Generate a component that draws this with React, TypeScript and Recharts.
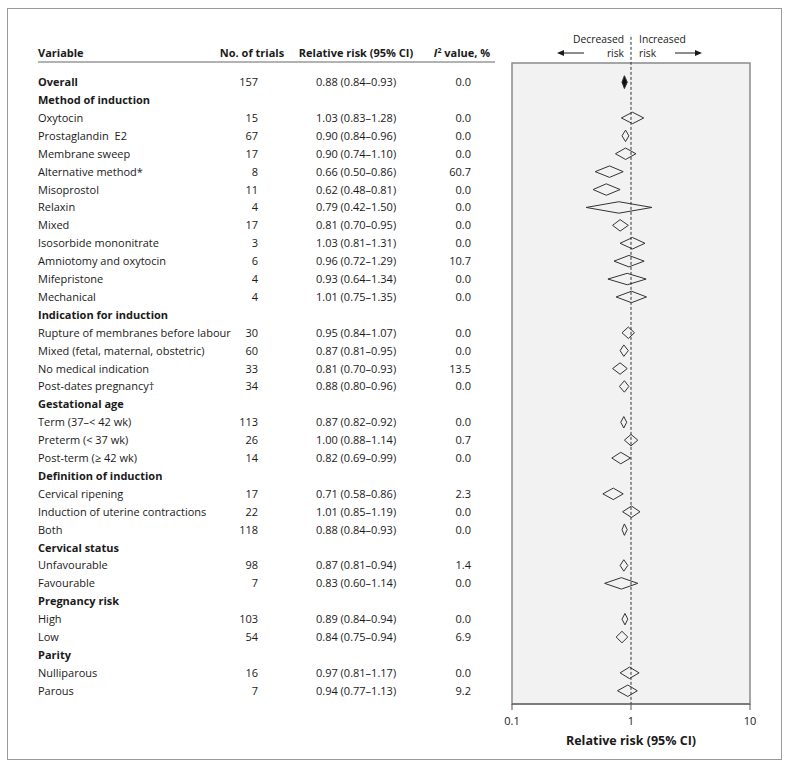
import React from "react";
import {
  ComposedChart,
  Area,
  XAxis,
  YAxis,
  CartesianGrid,
  ReferenceArea,
  ReferenceLine,
} from "recharts";

// Forest plot: relative risk of the outcome by subgroup, log scale 0.1–10.
// Rows top to bottom. Headings carry no numbers (null).

const LABELS = [
  "Overall",
  "Method of induction",
  "Oxytocin",
  "Prostaglandin\u00a0 E2",
  "Membrane sweep",
  "Alternative method*",
  "Misoprostol",
  "Relaxin",
  "Mixed",
  "Isosorbide mononitrate",
  "Amniotomy and oxytocin",
  "Mifepristone",
  "Mechanical",
  "Indication for induction",
  "Rupture of membranes before labour",
  "Mixed (fetal, maternal, obstetric)",
  "No medical indication",
  "Post-dates pregnancy\u2020",
  "Gestational age",
  "Term (37\u2013< 42 wk)",
  "Preterm (< 37 wk)",
  "Post-term (\u2265 42 wk)",
  "Definition of induction",
  "Cervical ripening",
  "Induction of uterine contractions",
  "Both",
  "Cervical status",
  "Unfavourable",
  "Favourable",
  "Pregnancy risk",
  "High",
  "Low",
  "Parity",
  "Nulliparous",
  "Parous",
];

const TRIALS: (number | null)[] = [
  157, null, 15, 67, 17, 8, 11, 4, 17, 3, 6, 4, 4,
  null, 30, 60, 33, 34,
  null, 113, 26, 14,
  null, 17, 22, 118,
  null, 98, 7,
  null, 103, 54,
  null, 16, 7,
];

const RR: (number | null)[] = [
  0.88, null, 1.03, 0.9, 0.9, 0.66, 0.62, 0.79, 0.81, 1.03, 0.96, 0.93, 1.01,
  null, 0.95, 0.87, 0.81, 0.88,
  null, 0.87, 1.0, 0.82,
  null, 0.71, 1.01, 0.88,
  null, 0.87, 0.83,
  null, 0.89, 0.84,
  null, 0.97, 0.94,
];

const CI_LOW: (number | null)[] = [
  0.84, null, 0.83, 0.84, 0.74, 0.5, 0.48, 0.42, 0.7, 0.81, 0.72, 0.64, 0.75,
  null, 0.84, 0.81, 0.7, 0.8,
  null, 0.82, 0.88, 0.69,
  null, 0.58, 0.85, 0.84,
  null, 0.81, 0.6,
  null, 0.84, 0.75,
  null, 0.81, 0.77,
];

const CI_HIGH: (number | null)[] = [
  0.93, null, 1.28, 0.96, 1.1, 0.86, 0.81, 1.5, 0.95, 1.31, 1.29, 1.34, 1.35,
  null, 1.07, 0.95, 0.93, 0.96,
  null, 0.92, 1.14, 0.99,
  null, 0.86, 1.19, 0.93,
  null, 0.94, 1.14,
  null, 0.94, 0.94,
  null, 1.17, 1.13,
];

const I2: (number | null)[] = [
  0.0, null, 0.0, 0.0, 0.0, 60.7, 0.0, 0.0, 0.0, 0.0, 10.7, 0.0, 0.0,
  null, 0.0, 0.0, 13.5, 0.0,
  null, 0.0, 0.7, 0.0,
  null, 2.3, 0.0, 0.0,
  null, 1.4, 0.0,
  null, 0.0, 6.9,
  null, 0.0, 9.2,
];

const X_TICKS = [0.1, 1, 10];

const FONT = "'Open Sans', 'Noto Sans', sans-serif";
const INK = "#1a1a1a";

// row index axis (0 = top row)
const Y_MIN = -1.07;
const Y_MAX = 34.74;
const ROWS = LABELS.map((_, i) => i);

const fmt2 = (v: number) => v.toFixed(2);

const TableRow = (props: any) => {
  const { y, payload } = props;
  const i = payload.value as number;
  const heading = TRIALS[i] == null;
  const bold = heading || i === 0;
  return (
    <g fontFamily={FONT} fontSize={11} fill={INK}>
      <text x={38} y={y} dy={4} fontWeight={bold ? 700 : 400}>
        {LABELS[i]}
      </text>
      {!heading && (
        <>
          <text x={258} y={y} dy={4} textAnchor="end">
            {TRIALS[i]}
          </text>
          <text x={316} y={y} dy={4}>
            {`${fmt2(RR[i]!)} (${fmt2(CI_LOW[i]!)}\u2013${fmt2(CI_HIGH[i]!)})`}
          </text>
          <text x={471} y={y} dy={4} textAnchor="end">
            {I2[i]!.toFixed(1)}
          </text>
        </>
      )}
    </g>
  );
};

export default function App() {
  // one diamond per row with an estimate: point, CI ends on the row line
  const diamonds = ROWS.filter((i) => RR[i] != null).map((i) => {
    const h = i === 0 ? 0.36 : 0.32;
    const data = [
      { x: CI_LOW[i], band: [i, i] },
      { x: RR[i], band: [i - h, i + h] },
      { x: CI_HIGH[i], band: [i, i] },
    ];
    return (
      <Area
        key={i}
        data={data}
        dataKey="band"
        type="linear"
        stroke="#333"
        strokeWidth={1}
        fill={i === 0 ? "#111" : "none"}
        fillOpacity={1}
        dot={false}
        activeDot={false}
        isAnimationActive={false}
      />
    );
  });

  return (
    <div
      style={{
        position: "absolute",
        left: 0,
        top: 0,
        width: 790,
        height: 767,
        background: "#fff",
        fontFamily: FONT,
      }}
    >
      <ComposedChart
        width={790}
        height={767}
        margin={{ top: 63, right: 40, bottom: 18, left: 32 }}
      >
        <CartesianGrid fill="#f2f2f2" horizontal={false} vertical={false} />
        <XAxis
          dataKey="x"
          type="number"
          scale="log"
          domain={[0.1, 10]}
          ticks={X_TICKS}
          allowDataOverflow
          height={45}
          tickSize={6}
          tickMargin={7}
          stroke="#555"
          tick={{ fill: INK, fontSize: 11, fontFamily: FONT }}
          label={{
            value: "Relative risk (95% CI)",
            position: "insideBottom",
            offset: 4,
            fontSize: 12.5,
            fontWeight: 700,
            fill: INK,
            fontFamily: FONT,
          }}
        />
        <YAxis
          type="number"
          domain={[Y_MIN, Y_MAX]}
          reversed
          allowDataOverflow
          ticks={ROWS}
          interval={0}
          width={480}
          axisLine={false}
          tickLine={false}
          tick={<TableRow />}
        />
        <ReferenceArea
          x1={0.1}
          x2={10}
          y1={Y_MIN}
          y2={Y_MAX}
          fill="none"
          stroke="#8a8a8a"
          strokeWidth={1.5}
          ifOverflow="visible"
        />
        <ReferenceLine
          segment={[
            { x: 1, y: -2.53 },
            { x: 1, y: Y_MAX },
          ]}
          stroke="#333"
          strokeDasharray="3 2"
          ifOverflow="visible"
        />
        {diamonds}
      </ComposedChart>

      <svg
        width={790}
        height={767}
        style={{ position: "absolute", left: 0, top: 0, pointerEvents: "none" }}
        fontFamily={FONT}
        fill={INK}
      >
        <rect x={7.5} y={8.5} width={774} height={751} fill="none" stroke="#9a9a9a" />
        {/* table header */}
        <g fontSize={11} fontWeight={700}>
          <text x={38} y={57}>Variable</text>
          <text x={252} y={57} textAnchor="middle">No. of trials</text>
          <text x={356} y={57} textAnchor="middle">Relative risk (95% CI)</text>
          <text x={462} y={57} textAnchor="middle">
            <tspan fontStyle="italic">I</tspan>
            <tspan fontSize={7} dy={-4}>2</tspan>
            <tspan dy={4}> value, %</tspan>
          </text>
        </g>
        <line x1={38} x2={495} y1={62} y2={62} stroke="#999" strokeWidth={1.5} />
        {/* direction of effect */}
        <g fontSize={10.3}>
          <text x={624} y={43} textAnchor="end">Decreased</text>
          <text x={624} y={57.2} textAnchor="end">risk</text>
          <text x={639} y={43}>Increased</text>
          <text x={639} y={57.2}>risk</text>
        </g>
        <line x1={562} x2={584} y1={53} y2={53} stroke={INK} />
        <polygon points="557,53 564,50 564,56" fill={INK} />
        <line x1={675} x2={697} y1={53} y2={53} stroke={INK} />
        <polygon points="702,53 695,50 695,56" fill={INK} />
      </svg>
    </div>
  );
}
